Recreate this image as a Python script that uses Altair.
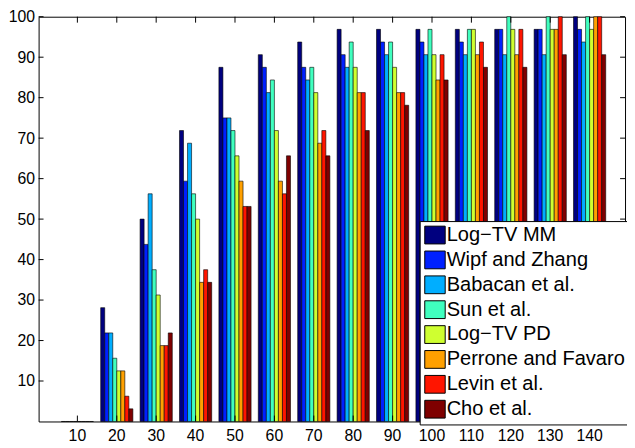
import altair as alt
import pandas as pd

groups = [10, 20, 30, 40, 50, 60, 70, 80, 90, 100, 110, 120, 130, 140]
series = ["Log\u2212TV MM", "Wipf and Zhang", "Babacan et al.", "Sun et al.",
          "Log\u2212TV PD", "Perrone and Favaro", "Levin et al.", "Cho et al."]
colors = ["#00007F", "#0020FF", "#00AEFF", "#40FFBF",
          "#CFFF30", "#FFA000", "#FF1500", "#7F0000"]

log_tv_mm = [0, 28.125, 50, 71.875, 87.5, 90.625, 93.75, 96.875, 96.875, 96.875, 96.875, 96.875, 96.875, 100]
wipf_zhang = [0, 21.875, 43.75, 59.375, 75, 87.5, 87.5, 90.625, 93.75, 93.75, 93.75, 96.875, 96.875, 96.875]
babacan = [0, 21.875, 56.25, 68.75, 75, 81.25, 84.375, 87.5, 90.625, 90.625, 90.625, 90.625, 90.625, 93.75]
sun = [0, 15.625, 37.5, 56.25, 71.875, 84.375, 87.5, 93.75, 93.75, 96.875, 96.875, 100, 100, 100]
log_tv_pd = [0, 12.5, 31.25, 50, 65.625, 71.875, 81.25, 87.5, 87.5, 90.625, 96.875, 96.875, 96.875, 96.875]
perrone = [0, 12.5, 18.75, 34.375, 59.375, 59.375, 68.75, 81.25, 81.25, 84.375, 90.625, 90.625, 96.875, 100]
levin = [0, 6.25, 18.75, 37.5, 53.125, 56.25, 71.875, 81.25, 81.25, 90.625, 93.75, 96.875, 100, 100]
cho = [0, 3.125, 21.875, 34.375, 53.125, 65.625, 65.625, 71.875, 78.125, 84.375, 87.5, 87.5, 90.625, 90.625]

y_ticks = [10, 20, 30, 40, 50, 60, 70, 80, 90, 100]

all_values = [log_tv_mm, wipf_zhang, babacan, sun, log_tv_pd, perrone, levin, cho]
rows = []
for s, vals in zip(series, all_values):
    for g, v in zip(groups, vals):
        rows.append({"group": g, "series": s, "value": v})
df = pd.DataFrame(rows)
df_x = pd.DataFrame({"group": groups})
df_y = pd.DataFrame({"tick": y_ticks})

W, H = 594, 410
FONT = "Liberation Sans"

x_scale = alt.Scale(paddingInner=0.183, paddingOuter=0.533, align=0.54, round=False)
y_scale = alt.Scale(domain=[0, 100], nice=False)

x_axis = alt.Axis(labelFont=FONT, labelFontSize=16, labelColor="black", ticks=False,
                  domain=False, labelPadding=6, labelAngle=0, title=None, grid=False)
y_axis = alt.Axis(values=y_ticks, labelFont=FONT, labelFontSize=16, labelColor="black",
                  ticks=False, domain=False, labelPadding=4, title=None, grid=False)

legend = alt.Legend(
    orient="none", legendX=386, legendY=207, title=None,
    symbolType="M-1,-1H1.3V1H-1Z", symbolSize=324,
    symbolStrokeColor="black", symbolStrokeWidth=1, symbolOpacity=1,
    labelFont=FONT, labelFontSize=20.3, labelColor="black", labelOffset=3,
    labelLimit=400, rowPadding=2.2, padding=4,
    strokeColor="black", fillColor="white", cornerRadius=0, zindex=1,
)

bars = alt.Chart(df).mark_bar(stroke="black", strokeWidth=0.6).encode(
    x=alt.X("group:O", scale=x_scale, axis=x_axis),
    xOffset=alt.XOffset("series:N", sort=series,
                        scale=alt.Scale(paddingInner=0, paddingOuter=0, round=False)),
    y=alt.Y("value:Q", scale=y_scale, axis=y_axis),
    color=alt.Color("series:N", sort=series,
                    scale=alt.Scale(domain=series, range=colors), legend=legend),
)

tick_style = dict(color="black", strokeWidth=1)
left_ticks = alt.Chart(df_y).mark_rule(**tick_style).encode(
    y=alt.Y("tick:Q"), x=alt.value(0), x2=alt.value(5))
right_ticks = alt.Chart(df_y).mark_rule(**tick_style).encode(
    y=alt.Y("tick:Q"), x=alt.value(W), x2=alt.value(W - 5))
bottom_ticks = alt.Chart(df_x).mark_rule(**tick_style).encode(
    x=alt.X("group:O"), y=alt.value(H), y2=alt.value(H - 6))
top_ticks = alt.Chart(df_x).mark_rule(**tick_style).encode(
    x=alt.X("group:O"), y=alt.value(0), y2=alt.value(6))

chart = alt.layer(bars, left_ticks, right_ticks, bottom_ticks, top_ticks).properties(
    width=W, height=H,
    autosize=alt.AutoSizeParams(type="none"),
    padding={"left": 31, "top": 6, "right": 2, "bottom": 22},
    background="white",
).configure_view(stroke="black", strokeWidth=1)

chart.save("out.html", embed_options={"renderer": "svg", "actions": False})
